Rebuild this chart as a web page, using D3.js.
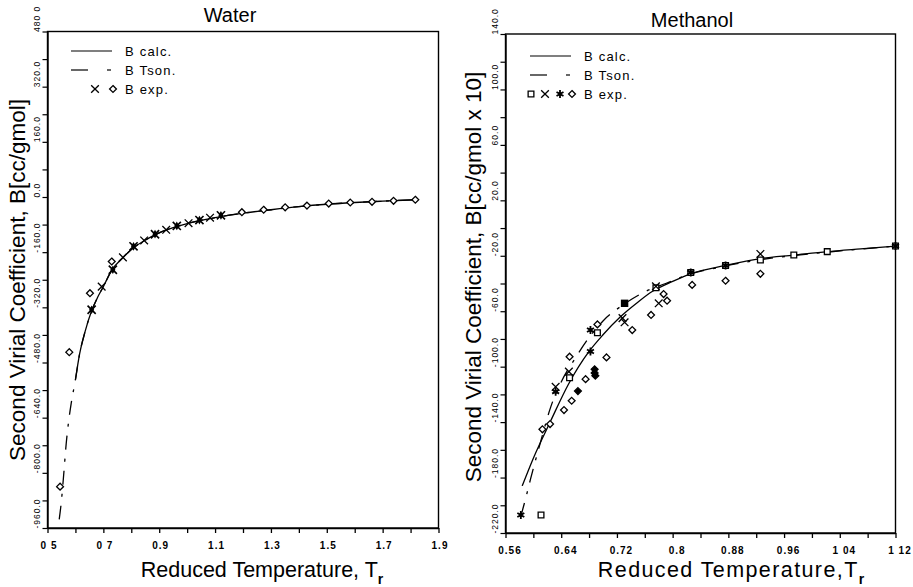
<!DOCTYPE html>
<html><head><meta charset="utf-8">
<script src="https://cdn.jsdelivr.net/npm/d3@7"></script>
<style>
body{margin:0;background:#fff;}
svg{display:block;font-family:"Liberation Sans",Arial,sans-serif;}
</style></head>
<body>
<svg id="c" width="913" height="587"></svg>
<script>
// ---------- DATA ----------
// Water panel
const waterXTicks = [0.5,0.6,0.7,0.8,0.9,1.0,1.1,1.2,1.3,1.4,1.5,1.6,1.7,1.8,1.9];
const waterXLabels = {"0.5":"0 5","0.7":"0 7","0.9":"0.9","1.1":"1.1","1.3":"1.3","1.5":"1.5","1.7":"1.7","1.9":"1.9"};
const waterYTicks = [480,400,320,240,160,80,0,-80,-160,-240,-320,-400,-480,-560,-640,-720,-800,-880,-960];
const waterYLabels = {"480":"480 0","320":"320.0","160":"160.0","0":"0.0","-160":"-160.0","-320":"-320.0","-480":"-480.0","-640":"-640.0","-800":"-800.0","-960":"-960.0"};
const waterCalc = [[0.6,-530],[0.615,-455],[0.634,-392],[0.658,-330],[0.68,-290],[0.7,-260],[0.73,-212],[0.77,-176],[0.81,-146],[0.85,-125],[0.9,-104],[0.95,-89],[1.0,-77],[1.1,-60],[1.2,-47],[1.3,-37],[1.4,-28],[1.5,-21],[1.6,-16],[1.7,-12],[1.82,-8]];
const waterTson = [[0.542,-935],[0.55,-880],[0.558,-805],[0.567,-715],[0.575,-655],[0.585,-598],[0.6,-530],[0.615,-455],[0.634,-392],[0.658,-330],[0.68,-290],[0.7,-260],[0.73,-212],[0.77,-176],[0.81,-146],[0.85,-125],[0.9,-104],[0.95,-89],[1.0,-77],[1.1,-60],[1.2,-47],[1.3,-37],[1.4,-28],[1.5,-21],[1.6,-16],[1.7,-12],[1.82,-8]];
const waterDiamond = [[0.545,-840],[0.578,-450],[0.652,-279],[0.73,-187],[1.196,-44],[1.274,-37],[1.351,-30],[1.429,-25],[1.507,-19],[1.584,-16],[1.662,-14],[1.739,-11],[1.817,-8]];
const waterCross = [[0.694,-260],[0.77,-175],[0.846,-126],[0.925,-95],[1.005,-76],[1.082,-60]];
const waterStar = [[0.658,-327],[0.734,-211],[0.808,-143],[0.885,-108],[0.963,-84],[1.044,-67],[1.121,-53]];

// Methanol panel
const methXTicks = [0.56,0.60,0.64,0.68,0.72,0.76,0.80,0.84,0.88,0.92,0.96,1.00,1.04,1.08,1.12];
const methXLabels = {"0.56":"0.56","0.64":"0.64","0.72":"0.72","0.8":"0.8","0.88":"0.88","0.96":"0.96","1.04":"1 04","1.12":"1 12"};
const methYTicks = [140,120,100,80,60,40,20,0,-20,-40,-60,-80,-100,-120,-140,-160,-180,-200,-220];
const methYLabels = {"140":"140.0","100":"100.0","60":"60.0","20":"20.0","-20":"-20.0","-60":"-60.0","-100":"-100.0","-140":"-140.0","-180":"-180.0","-220":"-220.0"};
const methCalc = [[0.584,-186],[0.60,-166],[0.625,-139],[0.65,-113],[0.68,-89],[0.70,-77],[0.725,-64],[0.75,-53.5],[0.77,-46],[0.80,-38.5],[0.826,-33],[0.876,-27],[0.926,-22],[0.974,-19.5],[1.022,-17],[1.07,-15],[1.12,-13]];
const methTson = [[0.582,-208],[0.59,-193],[0.596,-181],[0.61,-155],[0.625,-129],[0.64,-111],[0.66,-94],[0.68,-79],[0.70,-67],[0.73,-55],[0.76,-46],[0.79,-40],[0.82,-34],[0.87,-28],[0.93,-22.5],[1.0,-18.5],[1.12,-13]];
const methSquare = [[0.611,-207],[0.652,-108],[0.692,-75.5],[0.776,-43],[0.826,-32],[0.876,-27],[0.926,-23],[0.974,-19.5],[1.022,-17],[1.12,-13]];
const methSquareFilled = [[0.731,-54.3]];
const methCross = [[0.632,-114.5],[0.651,-103.6],[0.728,-65],[0.731,-68],[0.78,-54.3],[0.776,-42],[0.926,-18.7]];
const methStar = [[0.582,-207],[0.632,-118],[0.682,-73.6],[0.682,-89],[0.826,-32],[0.876,-27],[1.12,-13]];
const methDiamond = [[0.613,-145.2],[0.624,-141.4],[0.644,-131.3],[0.655,-124.6],[0.652,-92.8],[0.675,-109],[0.692,-69.5],[0.705,-93.3],[0.742,-73.6],[0.769,-62.7],[0.787,-47.6],[0.792,-52.4],[0.828,-41],[0.876,-38],[0.926,-33]];
const methDiamondFilled = [[0.664,-117.6],[0.688,-101.9],[0.688,-104.5],[0.689,-106.5]];

// ---------- DRAW ----------
const svg = d3.select("#c");

function panel(cfg){
  const g = svg.append("g");
  const x = d3.scaleLinear().domain(cfg.xDom).range([cfg.left, cfg.right]);
  const y = d3.scaleLinear().domain(cfg.yDom).range([cfg.bottom, cfg.top]);
  // frame
  g.append("rect").attr("x",cfg.left).attr("y",cfg.top)
    .attr("width",cfg.right-cfg.left).attr("height",cfg.bottom-cfg.top)
    .attr("fill","none").attr("stroke","#000").attr("stroke-width",1.4);
  // x axis
  const xa = g.append("g").attr("transform",`translate(0,${cfg.bottom})`)
    .call(d3.axisBottom(x).tickValues(cfg.xTicks).tickSize(5).tickSizeOuter(0)
      .tickFormat(d => cfg.xLabels[String(+d.toFixed(2))] || ""));
  xa.select(".domain").attr("stroke-width",1.4);
  xa.selectAll(".tick line").attr("stroke-width",1.3);
  xa.selectAll("text").attr("font-size",10).attr("font-weight","bold")
    .attr("letter-spacing","1px").attr("y",14).attr("dx",cfg.xdx);
  // y axis
  const ya = g.append("g").attr("transform",`translate(${cfg.left},0)`)
    .call(d3.axisLeft(y).tickValues(cfg.yTicks).tickSize(5).tickSizeOuter(0)
      .tickFormat(d => cfg.yLabels[String(d)] || ""));
  ya.select(".domain").attr("stroke-width",1.4);
  ya.selectAll(".tick line").attr("stroke-width",1.2);
  ya.selectAll("text").attr("font-size",8.5).attr("letter-spacing","1px")
    .attr("text-anchor","start").attr("x",0).attr("y",-7.5).attr("dy",0)
    .attr("transform","rotate(-90)");
  // title
  g.append("text").attr("x",cfg.titleX).attr("y",cfg.titleY).attr("text-anchor","middle")
    .attr("font-size",20).text(cfg.title);
  // y label
  g.append("text").attr("transform",`translate(${cfg.ylabX},${cfg.ylabY}) rotate(-90)`)
    .attr("text-anchor","middle").attr("font-size",22.5).text(cfg.ylab);
  // x label
  const xl = g.append("text").attr("x",cfg.xlabX).attr("y",577).attr("text-anchor","middle")
    .attr("font-size",21.5).attr("letter-spacing",cfg.xlabLS);
  xl.append("tspan").text(cfg.xlab);
  xl.append("tspan").attr("dy",7).attr("font-size",14).attr("font-weight","bold").attr("letter-spacing",0).text("r");

  const line = d3.line().x(d=>x(d[0])).y(d=>y(d[1])).curve(d3.curveMonotoneX);
  g.append("path").datum(cfg.tson).attr("d",line).attr("fill","none")
    .attr("stroke","#000").attr("stroke-width",1.3).attr("stroke-dasharray","14,9,3,9");
  g.append("path").datum(cfg.calc).attr("d",line).attr("fill","none")
    .attr("stroke","#000").attr("stroke-width",1.3);
  return {g,x,y};
}

function mark(g, type, px, py){
  const sym = d3.symbol();
  if(type==="diamond"){
    g.append("path").attr("transform",`translate(${px},${py})`)
      .attr("d",sym.type(d3.symbolDiamond2).size(30)()).attr("fill","#fff").attr("stroke","#000").attr("stroke-width",1.3);
  } else if(type==="diamondF"){
    g.append("path").attr("transform",`translate(${px},${py})`)
      .attr("d",sym.type(d3.symbolDiamond2).size(30)()).attr("fill","#000").attr("stroke","#000").attr("stroke-width",1.3);
  } else if(type==="cross"){
    g.append("path").attr("transform",`translate(${px},${py})`)
      .attr("d",sym.type(d3.symbolTimes).size(40)()).attr("fill","none").attr("stroke","#000").attr("stroke-width",1.3);
  } else if(type==="square"){
    g.append("path").attr("transform",`translate(${px},${py})`)
      .attr("d",sym.type(d3.symbolSquare2).size(42)()).attr("fill","#fff").attr("stroke","#000").attr("stroke-width",1.3);
  } else if(type==="squareF"){
    g.append("path").attr("transform",`translate(${px},${py})`)
      .attr("d",sym.type(d3.symbolSquare).size(55)()).attr("fill","#000");
  } else if(type==="star"){
    g.append("path").attr("transform",`translate(${px},${py})`)
      .attr("d",sym.type(d3.symbolDiamond).size(22)()).attr("fill","#000");
    g.append("path").attr("transform",`translate(${px},${py})`)
      .attr("d",sym.type(d3.symbolTimes).size(45)()).attr("fill","none").attr("stroke","#000").attr("stroke-width",1.6);
  } else if(type==="asterisk"){
    g.append("path").attr("transform",`translate(${px},${py})`)
      .attr("d",sym.type(d3.symbolAsterisk).size(45)()).attr("fill","none").attr("stroke","#000").attr("stroke-width",1.8);
    g.append("path").attr("transform",`translate(${px},${py})`)
      .attr("d",sym.type(d3.symbolCircle).size(12)()).attr("fill","#000");
  }
}
function marks(p, type, data){ data.forEach(d => mark(p.g, type, p.x(d[0]), p.y(d[1]))); }

function legend(g, lx, ly, markerRow){
  // lx: line start, ly: first row line y
  g.append("line").attr("x1",lx).attr("x2",lx+41).attr("y1",ly).attr("y2",ly).attr("stroke","#000").attr("stroke-width",1.2);
  g.append("line").attr("x1",lx).attr("x2",lx+17).attr("y1",ly+19).attr("y2",ly+19).attr("stroke","#000").attr("stroke-width",1.2);
  g.append("line").attr("x1",lx+36).attr("x2",lx+40).attr("y1",ly+19).attr("y2",ly+19).attr("stroke","#000").attr("stroke-width",1.2);
  const tx = lx+54;
  [["B calc.",ly+5],["B Tson.",ly+24],["B exp.",ly+43]].forEach(r=>{
    g.append("text").attr("x",tx).attr("y",r[1]).attr("font-size",13).attr("letter-spacing","1.2px").text(r[0]);
  });
  markerRow.forEach(m => mark(g, m[0], m[1], ly+38));
}

const W = panel({xDom:[0.5,1.9], yDom:[-960,480], left:47.5, right:438.5, top:31.5, bottom:528,
  xTicks:waterXTicks, xLabels:waterXLabels, yTicks:waterYTicks, yLabels:waterYLabels, xdx:1,
  title:"Water", titleX:230, titleY:22,
  ylab:"Second Virial Coefficient, B[cc/gmol]", ylabX:25, ylabY:280,
  xlab:"Reduced Temperature, T", xlabX:262, xlabLS:"0px",
  calc:waterCalc, tson:waterTson});
marks(W,"diamond",waterDiamond);
marks(W,"cross",waterCross);
marks(W,"star",waterStar);
legend(W.g, 71, 51, [["cross",95],["diamond",113]]);

const M = panel({xDom:[0.56,1.12], yDom:[-220,140], left:505.5, right:895.5, top:34, bottom:533,
  xTicks:methXTicks, xLabels:methXLabels, yTicks:methYTicks, yLabels:methYLabels, xdx:4,
  title:"Methanol", titleX:692, titleY:27,
  ylab:"Second Virial Coefficient, B[cc/gmol x 10]", ylabX:481, ylabY:277,
  xlab:"Reduced Temperature,T", xlabX:731, xlabLS:"1.4px",
  calc:methCalc, tson:methTson});
marks(M,"diamond",methDiamond);
marks(M,"diamondF",methDiamondFilled);
marks(M,"square",methSquare);
marks(M,"squareF",methSquareFilled);
marks(M,"cross",methCross);
marks(M,"asterisk",methStar);
legend(M.g, 530, 56, [["square",531],["cross",545],["asterisk",560],["diamond",572]]);
</script>
</body></html>
